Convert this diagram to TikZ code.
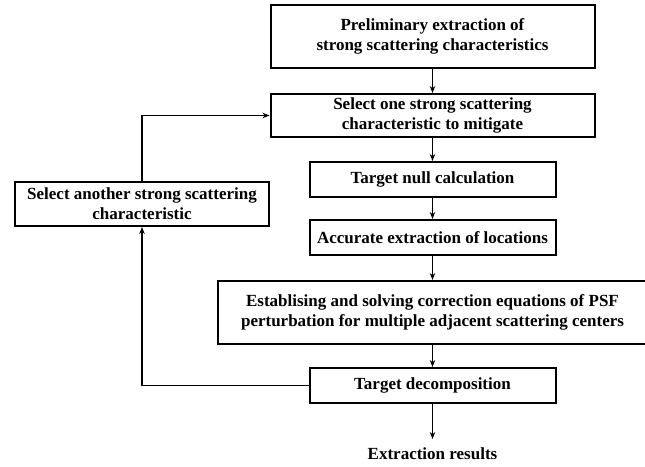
\documentclass[tikz,border=0pt]{standalone}
\usepackage{fontspec}
\setmainfont{Liberation Serif}
\usetikzlibrary{arrows.meta,positioning}

\begin{document}
\begin{tikzpicture}[
  x=1pt,y=-1pt,
  font=\fontsize{17}{20}\selectfont\bfseries,
  block/.style={draw=black,fill=white,align=center,line width=2pt,
    minimum width=246pt,minimum height=35pt,inner sep=2pt},
  wide/.style={block,minimum width=324pt},
  arr/.style={-{Stealth[length=7pt,width=5.5pt]},line width=1.8pt}]

  \useasboundingbox (0,0) rectangle (645,466);

  \node[wide,minimum height=63pt] (prelim) at (432.5,36.5)
    {Preliminary extraction of\\strong scattering characteristics};
  \node[wide,minimum height=43pt,below=24pt of prelim] (select)
    {Select one strong scattering\\characteristic to mitigate};
  \node[block,below=23pt of select] (nullc) {Target null calculation};
  \node[block,below=21pt of nullc] (locate) {Accurate extraction of locations};
  \node[block,minimum width=430pt,minimum height=63pt,below=24pt of locate] (psf)
    {Establising and solving correction equations of PSF\\
     perturbation for multiple adjacent scattering centers};
  \node[block,below=22pt of psf] (decomp) {Target decomposition};
  \node[below=35pt of decomp,inner xsep=3pt,inner ysep=8.5pt] (result)
    {Extraction results};

  \node[block,minimum width=254pt,minimum height=44pt] (another) at (142,204)
    {Select another strong scattering\\characteristic};

  \draw[arr] (prelim) -- (select);
  \draw[arr] (select) -- (nullc);
  \draw[arr] (nullc) -- (locate);
  \draw[arr] (locate) -- (psf);
  \draw[arr] (psf) -- (decomp);
  \draw[arr] (decomp) -- (result);

  % loop back to the selection step
  \draw[arr] (decomp.west) -| (another.south);
  \draw[arr] (another.north) |- (select.west);

\end{tikzpicture}
\end{document}
